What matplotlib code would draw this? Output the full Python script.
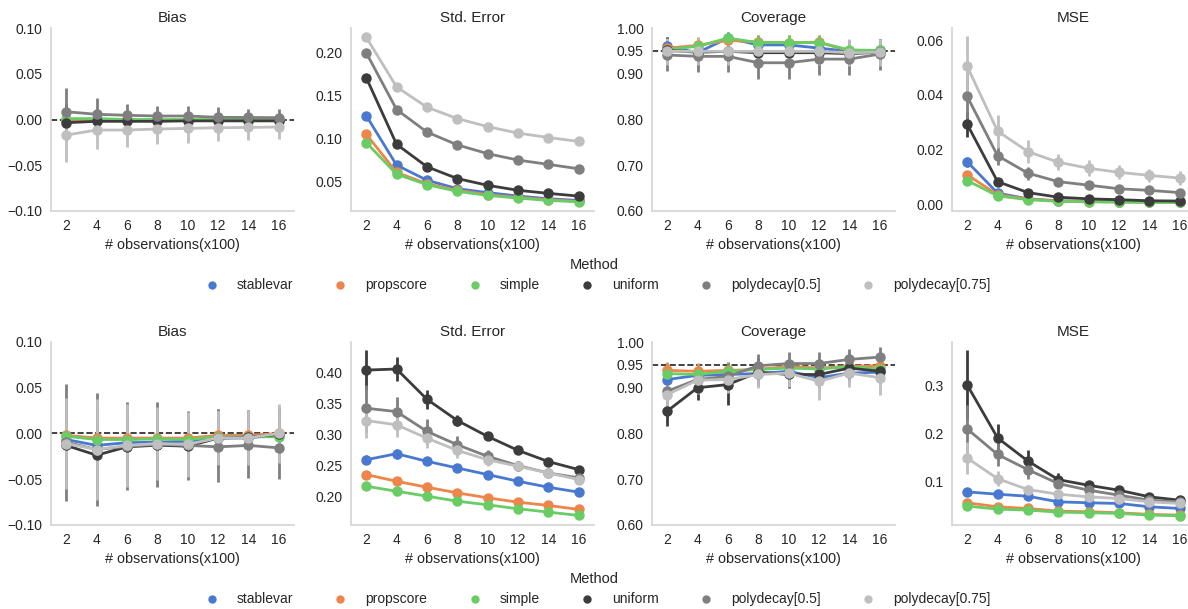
import numpy as np
import matplotlib
matplotlib.use('Agg')
import matplotlib.pyplot as plt
from matplotlib.lines import Line2D

plt.rcParams['font.family'] = ['Liberation Sans', 'DejaVu Sans']
plt.rcParams['font.size'] = 10
plt.rcParams['text.color'] = '#262626'
plt.rcParams['axes.labelcolor'] = '#262626'
plt.rcParams['xtick.color'] = '#262626'
plt.rcParams['ytick.color'] = '#262626'

n_obs = [2, 4, 6, 8, 10, 12, 14, 16]
methods = ['stablevar', 'propscore', 'simple', 'uniform', 'polydecay[0.5]', 'polydecay[0.75]']
colors = ['#4878d0', '#ee854a', '#6acc64', '#3c3c3c', '#7f7f7f', '#bfbfbf']
metrics = ['Bias', 'Std. Error', 'Coverage', 'MSE']

# ---------------- top row ----------------
bias1 = {
    'stablevar':       [-0.001, -0.001, -0.001, -0.001, -0.001, -0.001, -0.001, -0.001],
    'propscore':       [0.000, 0.000, 0.000, -0.001, -0.001, -0.001, -0.001, -0.001],
    'simple':          [0.001, 0.001, 0.000, 0.000, 0.000, 0.000, 0.000, 0.000],
    'uniform':         [-0.0035, -0.002, -0.002, -0.002, -0.0015, -0.0015, -0.0015, -0.0015],
    'polydecay[0.5]':  [0.0085, 0.0057, 0.0046, 0.0038, 0.0038, 0.0024, 0.0022, 0.002],
    'polydecay[0.75]': [-0.017, -0.0115, -0.0115, -0.0104, -0.0097, -0.009, -0.0087, -0.0082],
}
bias1_err = {
    'stablevar':       [0.012, 0.009, 0.007, 0.006, 0.005, 0.005, 0.004, 0.004],
    'propscore':       [0.011, 0.008, 0.007, 0.006, 0.005, 0.005, 0.004, 0.004],
    'simple':          [0.011, 0.008, 0.007, 0.006, 0.005, 0.005, 0.004, 0.004],
    'uniform':         [0.02, 0.012, 0.01, 0.008, 0.007, 0.006, 0.006, 0.005],
    'polydecay[0.5]':  [0.026, 0.018, 0.012, 0.011, 0.011, 0.011, 0.0098, 0.009],
    'polydecay[0.75]': [0.029, 0.021, 0.019, 0.016, 0.016, 0.015, 0.014, 0.013],
}
se1 = {
    'stablevar':       [0.1268, 0.0695, 0.052, 0.0422, 0.0376, 0.0337, 0.0305, 0.0286],
    'propscore':       [0.1053, 0.061, 0.048, 0.0403, 0.0352, 0.032, 0.0294, 0.0274],
    'simple':          [0.0956, 0.059, 0.0469, 0.0391, 0.0344, 0.0313, 0.0286, 0.027],
    'uniform':         [0.1708, 0.0936, 0.0676, 0.0539, 0.0461, 0.0403, 0.0368, 0.0336],
    'polydecay[0.5]':  [0.1996, 0.1338, 0.1077, 0.0929, 0.0827, 0.0753, 0.0703, 0.0652],
    'polydecay[0.75]': [0.2175, 0.160, 0.1365, 0.1233, 0.114, 0.1065, 0.1014, 0.0968],
}
se1_err = {m: [0.001] * 8 for m in methods}
cov1 = {
    'stablevar':       [0.960, 0.946, 0.978, 0.963, 0.963, 0.956, 0.949, 0.951],
    'propscore':       [0.956, 0.962, 0.973, 0.969, 0.968, 0.969, 0.950, 0.950],
    'simple':          [0.953, 0.960, 0.978, 0.968, 0.968, 0.968, 0.952, 0.951],
    'uniform':         [0.951, 0.947, 0.949, 0.946, 0.946, 0.946, 0.944, 0.947],
    'polydecay[0.5]':  [0.941, 0.938, 0.938, 0.924, 0.924, 0.932, 0.932, 0.943],
    'polydecay[0.75]': [0.949, 0.949, 0.949, 0.949, 0.949, 0.949, 0.946, 0.947],
}
cov1_err = {
    'stablevar':       [0.02, 0.02, 0.013, 0.016, 0.016, 0.018, 0.02, 0.02],
    'propscore':       [0.02, 0.018, 0.015, 0.016, 0.016, 0.016, 0.02, 0.02],
    'simple':          [0.02, 0.018, 0.013, 0.016, 0.016, 0.016, 0.02, 0.02],
    'uniform':         [0.03, 0.03, 0.03, 0.03, 0.03, 0.03, 0.03, 0.03],
    'polydecay[0.5]':  [0.034, 0.035, 0.035, 0.036, 0.036, 0.035, 0.035, 0.034],
    'polydecay[0.75]': [0.03, 0.03, 0.03, 0.03, 0.03, 0.03, 0.03, 0.03],
}
mse1 = {
    'stablevar':       [0.0155, 0.004, 0.0019, 0.0012, 0.001, 0.0009, 0.0008, 0.0007],
    'propscore':       [0.0107, 0.0034, 0.0018, 0.0011, 0.0009, 0.0008, 0.0007, 0.0006],
    'simple':          [0.0086, 0.003, 0.0016, 0.001, 0.0008, 0.0007, 0.0006, 0.0006],
    'uniform':         [0.0292, 0.0082, 0.0042, 0.0025, 0.0019, 0.0016, 0.0012, 0.0011],
    'polydecay[0.5]':  [0.0394, 0.0177, 0.0113, 0.0082, 0.0069, 0.0056, 0.005, 0.0042],
    'polydecay[0.75]': [0.0504, 0.0267, 0.0192, 0.0153, 0.0131, 0.0116, 0.0105, 0.0095],
}
mse1_err = {
    'stablevar':       [0.0018, 0.0005, 0.0002, 0.0001, 0.0001, 0.0001, 0.0001, 0.0001],
    'propscore':       [0.0012, 0.0004, 0.0002, 0.0001, 0.0001, 0.0001, 0.0001, 0.0001],
    'simple':          [0.001, 0.0003, 0.0002, 0.0001, 0.0001, 0.0001, 0.0001, 0.0001],
    'uniform':         [0.0045, 0.0008, 0.0004, 0.0002, 0.0002, 0.0001, 0.0001, 0.0001],
    'polydecay[0.5]':  [0.009, 0.0035, 0.0024, 0.0015, 0.001, 0.0008, 0.0007, 0.0006],
    'polydecay[0.75]': [0.011, 0.006, 0.0042, 0.003, 0.003, 0.0026, 0.0025, 0.0025],
}

# ---------------- bottom row ----------------
bias2 = {
    'stablevar':       [-0.0066, -0.013, -0.010, -0.0095, -0.0084, -0.005, -0.005, -0.001],
    'propscore':       [-0.002, -0.005, -0.005, -0.005, -0.005, -0.002, -0.002, 0.000],
    'simple':          [-0.003, -0.0066, -0.0066, -0.006, -0.0066, -0.0036, -0.0036, -0.0036],
    'uniform':         [-0.013, -0.0237, -0.0146, -0.0128, -0.0139, -0.005, -0.004, -0.001],
    'polydecay[0.5]':  [-0.0095, -0.0175, -0.014, -0.012, -0.013, -0.0146, -0.013, -0.0157],
    'polydecay[0.75]': [-0.011, -0.0175, -0.013, -0.011, -0.012, -0.0047, -0.0047, 0.000],
}
bias2_err = {
    'stablevar':       [0.03, 0.028, 0.025, 0.022, 0.02, 0.018, 0.017, 0.016],
    'propscore':       [0.028, 0.026, 0.023, 0.021, 0.019, 0.017, 0.016, 0.015],
    'simple':          [0.027, 0.025, 0.022, 0.02, 0.018, 0.016, 0.015, 0.014],
    'uniform':         [0.048, 0.04, 0.04, 0.037, 0.035, 0.032, 0.03, 0.03],
    'polydecay[0.5]':  [0.064, 0.062, 0.048, 0.046, 0.038, 0.038, 0.036, 0.034],
    'polydecay[0.75]': [0.05, 0.055, 0.045, 0.04, 0.035, 0.03, 0.03, 0.032],
}
se2 = {
    'stablevar':       [0.259, 0.2688, 0.2565, 0.2457, 0.235, 0.2242, 0.2145, 0.2065],
    'propscore':       [0.235, 0.2242, 0.2145, 0.2054, 0.1973, 0.1903, 0.185, 0.1785],
    'simple':          [0.2161, 0.208, 0.200, 0.1919, 0.186, 0.1796, 0.1742, 0.1688],
    'uniform':         [0.4043, 0.406, 0.357, 0.3226, 0.2968, 0.2742, 0.256, 0.243],
    'polydecay[0.5]':  [0.3425, 0.337, 0.305, 0.2833, 0.2645, 0.2495, 0.2376, 0.2296],
    'polydecay[0.75]': [0.3226, 0.3156, 0.294, 0.2742, 0.259, 0.2484, 0.2376, 0.2269],
}
se2_err = {
    'stablevar':       [0.007, 0.008, 0.006, 0.005, 0.003, 0.003, 0.003, 0.003],
    'propscore':       [0.002, 0.002, 0.002, 0.002, 0.002, 0.002, 0.002, 0.002],
    'simple':          [0.002, 0.002, 0.002, 0.002, 0.002, 0.002, 0.002, 0.002],
    'uniform':         [0.032, 0.019, 0.015, 0.009, 0.0065, 0.005, 0.004, 0.004],
    'polydecay[0.5]':  [0.038, 0.024, 0.02, 0.015, 0.01, 0.008, 0.006, 0.006],
    'polydecay[0.75]': [0.029, 0.02, 0.016, 0.012, 0.01, 0.008, 0.006, 0.006],
}
cov2 = {
    'stablevar':       [0.918, 0.927, 0.929, 0.931, 0.936, 0.922, 0.932, 0.934],
    'propscore':       [0.938, 0.936, 0.938, 0.940, 0.947, 0.943, 0.947, 0.948],
    'simple':          [0.931, 0.929, 0.936, 0.940, 0.943, 0.941, 0.946, 0.941],
    'uniform':         [0.849, 0.900, 0.907, 0.934, 0.929, 0.929, 0.943, 0.936],
    'polydecay[0.5]':  [0.8926, 0.918, 0.925, 0.948, 0.953, 0.953, 0.962, 0.967],
    'polydecay[0.75]': [0.885, 0.9165, 0.918, 0.929, 0.932, 0.914, 0.932, 0.922],
}
cov2_err = {
    'stablevar':       [0.02, 0.02, 0.02, 0.02, 0.02, 0.02, 0.02, 0.02],
    'propscore':       [0.018, 0.018, 0.018, 0.018, 0.016, 0.016, 0.016, 0.016],
    'simple':          [0.02, 0.02, 0.02, 0.018, 0.018, 0.018, 0.016, 0.018],
    'uniform':         [0.033, 0.027, 0.045, 0.03, 0.03, 0.03, 0.025, 0.027],
    'polydecay[0.5]':  [0.035, 0.03, 0.03, 0.025, 0.025, 0.025, 0.023, 0.022],
    'polydecay[0.75]': [0.035, 0.03, 0.03, 0.03, 0.03, 0.04, 0.03, 0.037],
}
mse2 = {
    'stablevar':       [0.0793, 0.0745, 0.0703, 0.0586, 0.0566, 0.0552, 0.0483, 0.0448],
    'propscore':       [0.0566, 0.0483, 0.0448, 0.0393, 0.038, 0.0359, 0.0324, 0.031],
    'simple':          [0.0497, 0.0434, 0.0414, 0.0372, 0.0359, 0.0345, 0.031, 0.0297],
    'uniform':         [0.302, 0.1917, 0.1434, 0.1048, 0.093, 0.0828, 0.069, 0.062],
    'polydecay[0.5]':  [0.2103, 0.1572, 0.1255, 0.0966, 0.0828, 0.0724, 0.062, 0.0586],
    'polydecay[0.75]': [0.1497, 0.1069, 0.0841, 0.0745, 0.069, 0.0655, 0.0586, 0.0552],
}
mse2_err = {
    'stablevar':       [0.008, 0.006, 0.005, 0.004, 0.003, 0.003, 0.003, 0.003],
    'propscore':       [0.004, 0.003, 0.003, 0.002, 0.002, 0.002, 0.002, 0.002],
    'simple':          [0.004, 0.003, 0.003, 0.002, 0.002, 0.002, 0.002, 0.002],
    'uniform':         [0.072, 0.029, 0.023, 0.014, 0.01, 0.008, 0.006, 0.005],
    'polydecay[0.5]':  [0.05, 0.025, 0.02, 0.01, 0.008, 0.007, 0.006, 0.005],
    'polydecay[0.75]': [0.033, 0.015, 0.01, 0.007, 0.006, 0.005, 0.005, 0.005],
}

rows = [
    [(bias1, bias1_err), (se1, se1_err), (cov1, cov1_err), (mse1, mse1_err)],
    [(bias2, bias2_err), (se2, se2_err), (cov2, cov2_err), (mse2, mse2_err)],
]
yticks = [
    [[-0.10, -0.05, 0.0, 0.05, 0.10], [0.05, 0.10, 0.15, 0.20], [0.6, 0.7, 0.8, 0.9, 0.95, 1.0], [0.0, 0.02, 0.04, 0.06]],
    [[-0.10, -0.05, 0.0, 0.05, 0.10], [0.20, 0.25, 0.30, 0.35, 0.40], [0.6, 0.7, 0.8, 0.9, 0.95, 1.0], [0.1, 0.2, 0.3]],
]
ref_lines = {'Bias': 0.0, 'Coverage': 0.95}
fixed_ylim = {'Bias': (-0.1, 0.1), 'Coverage': (0.6, 1.0)}

W, H = 1188, 609
fig = plt.figure(figsize=(W / 100, H / 100), dpi=100)
lefts = [51, 351, 652, 952]
tops = [28, 342]
aw, ah = 243, 183
legend_y = [275, 589]

x = np.arange(len(n_obs))
for r in range(2):
    for c in range(4):
        ax = fig.add_axes([lefts[c] / W, 1 - (tops[r] + ah) / H, aw / W, ah / H])
        vals, errs = rows[r][c]
        name = metrics[c]
        if name in ref_lines:
            ax.axhline(ref_lines[name], color='#222222', ls='--', lw=1.2, zorder=1)
        for m, col in zip(methods, colors):
            ax.errorbar(x, vals[m], yerr=errs[m], color=col, lw=2.0, marker='o', ms=6.5,
                        capsize=0, elinewidth=2.0, zorder=2)
        ax.set_xlim(-0.5, len(n_obs) - 0.5)
        ax.set_xticks(x)
        ax.set_xticklabels([str(v) for v in n_obs])
        ax.set_yticks(yticks[r][c])
        if name in fixed_ylim:
            ax.set_ylim(*fixed_ylim[name])
        ax.set_title(name, fontsize=11, pad=4)
        ax.set_xlabel('# observations(x100)', fontsize=10.4, labelpad=3)
        ax.tick_params(length=0, pad=6, labelsize=10)
        for s in ['top', 'right']:
            ax.spines[s].set_visible(False)
        for s in ['left', 'bottom']:
            ax.spines[s].set_color('#d5d5d5')
            ax.spines[s].set_linewidth(1.25)
        ax.grid(False)

    handles = [Line2D([], [], ls='', marker='o', color=col, ms=5) for col in colors]
    fig.legend(handles, methods, loc='center', bbox_to_anchor=(0.5, 1 - legend_y[r] / H),
               ncol=6, frameon=False, title='Method', fontsize=10, title_fontsize=10.5,
               columnspacing=2.4, handletextpad=0.8)

fig.savefig('out.png', dpi=100)
